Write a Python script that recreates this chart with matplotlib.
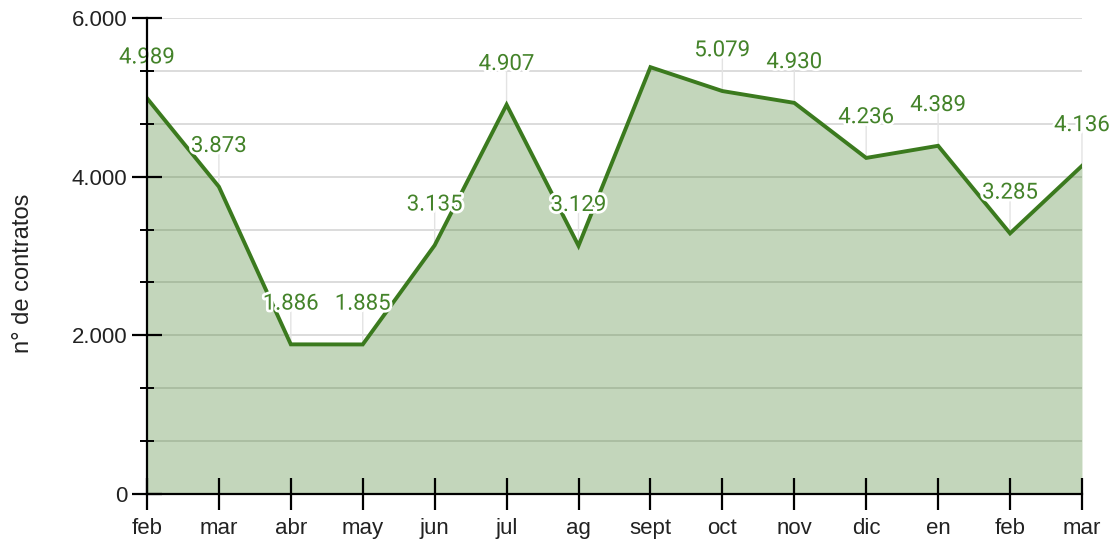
"""
    Contratos por mes: area chart with labelled points.
"""

# ------ Environment Setup ------ #
import numpy as np
import matplotlib
matplotlib.use("Agg")
import matplotlib.pyplot as plt
import matplotlib.patheffects as pe
from matplotlib.ticker import FixedLocator, FuncFormatter


# ------ Data ------ #
months = ["feb", "mar", "abr", "may", "jun", "jul", "ag", "sept",
          "oct", "nov", "dic", "en", "feb", "mar"]
contracts = [4989, 3873, 1886, 1885, 3135, 4907, 3129, 5380,
             5079, 4930, 4236, 4389, 3285, 4136]
# sept has no visible label in the original
show_label = [True] * 7 + [False] + [True] * 6

y_major = [0, 2000, 4000, 6000]

LINE = "#3b7a1e"
LABEL = "#44832a"


def fmt_es(v, pos=None):
    return f"{int(round(v)):,}".replace(",", ".")


# ------ Plot ------ #
fig = plt.figure(figsize=(11.16, 5.40), dpi=100)
ax = fig.add_axes([0.1317, 0.0852, 0.8378, 0.8815])

x = np.arange(len(months))

# grid first, area on top with transparency so grid shows through
for gy in np.arange(0, 6001, 2000 / 3)[1:]:
    ax.axhline(gy, color="#d9d9d9", lw=1.3, zorder=0)

ax.fill_between(x, contracts, 0, color=LINE, alpha=0.3, lw=0, zorder=1)
ax.plot(x, contracts, color=LINE, lw=2.8, zorder=3, solid_joinstyle="miter")

# labels with leader lines
for xi, v, show in zip(x, contracts, show_label):
    if not show:
        continue
    ax.annotate("", xy=(xi, v), xytext=(0, 25), textcoords="offset points",
                arrowprops=dict(arrowstyle="-", color="#e3e3e3", lw=1.0,
                                shrinkA=0, shrinkB=0), zorder=2)
    ax.annotate(fmt_es(v), xy=(xi, v), xytext=(0, 29), textcoords="offset points",
                ha="center", va="center", fontsize=16, family="Roboto",
                color=LABEL, zorder=4,
                path_effects=[pe.withStroke(linewidth=4, foreground="white")])

ax.set_xlim(0, len(months) - 1)
ax.set_ylim(0, 6000)

ax.yaxis.set_major_locator(FixedLocator(y_major))
ax.yaxis.set_minor_locator(FixedLocator(np.arange(0, 6001, 2000 / 3)))
ax.yaxis.set_major_formatter(FuncFormatter(fmt_es))
ax.set_xticks(x)
ax.set_xticklabels(months)

ax.tick_params(axis="y", which="major", direction="inout", length=22, width=1.6,
               labelsize=16, pad=3, colors="black")
ax.tick_params(axis="y", which="minor", direction="inout", length=10, width=1.4)
ax.tick_params(axis="x", which="major", direction="inout", length=23, width=1.6,
               labelsize=16, pad=6)
for lab in ax.get_xticklabels() + ax.get_yticklabels():
    lab.set_family("Liberation Sans")
    lab.set_color("#222222")

for side in ["top", "right"]:
    ax.spines[side].set_visible(False)
for side in ["left", "bottom"]:
    ax.spines[side].set_linewidth(1.6)
    ax.spines[side].set_zorder(5)

ax.set_ylabel("n° de contratos", fontsize=17, family="Liberation Sans",
              color="#222222", va="center")
ax.yaxis.set_label_coords(-0.133, 0.464)

fig.savefig("out.png", dpi=100)
